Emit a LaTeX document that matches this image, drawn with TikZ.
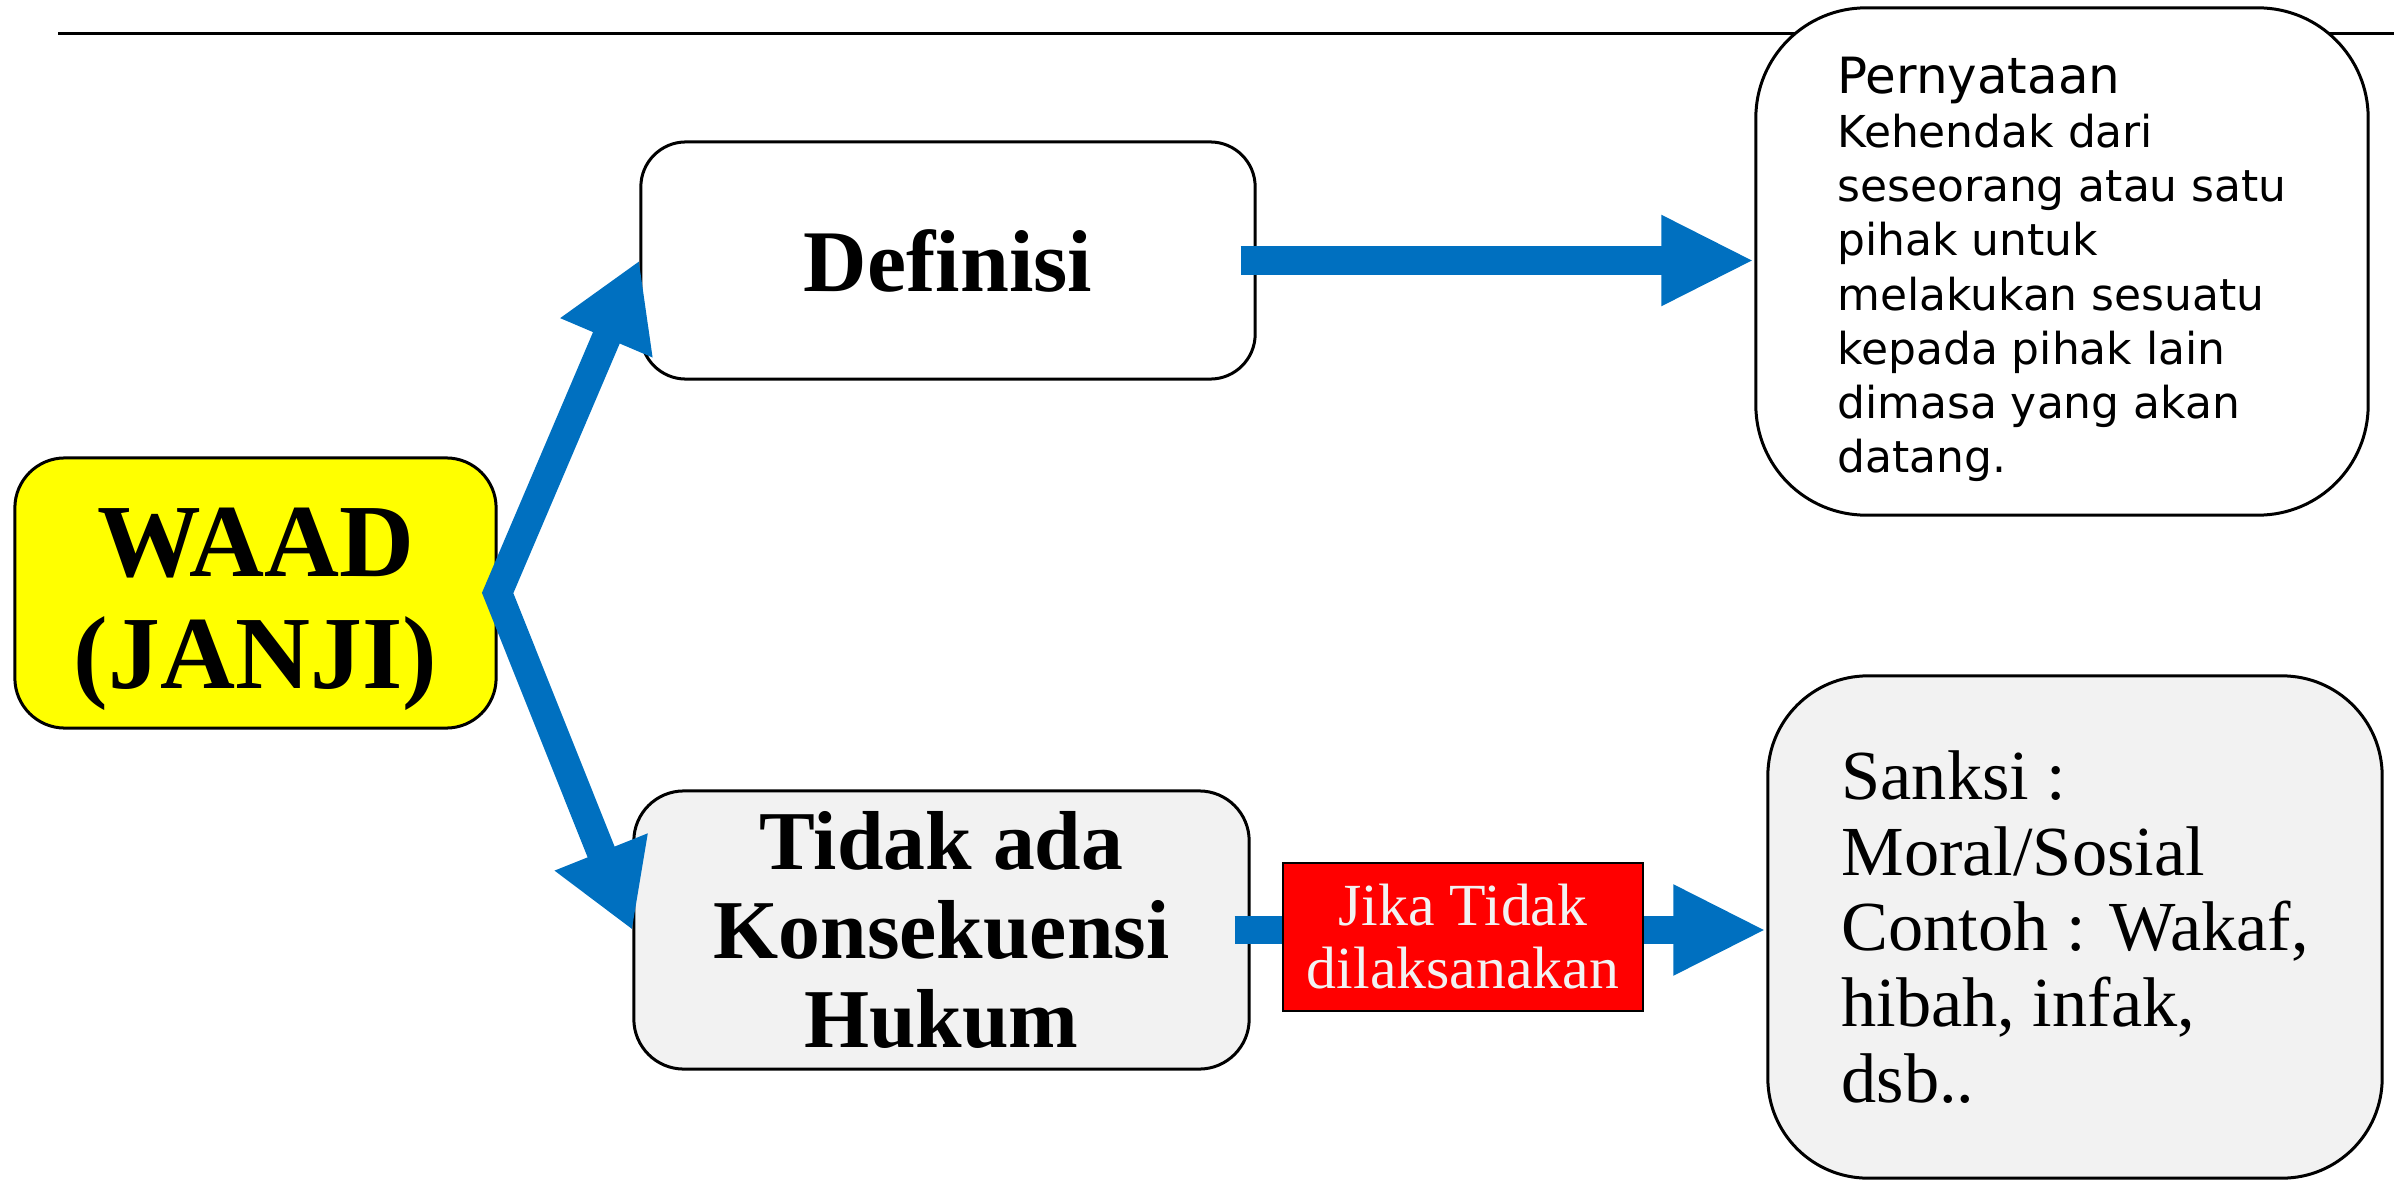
\documentclass[tikz,border=0pt]{standalone}
\usepackage{fontspec}
\setmainfont{Liberation Serif}
\newfontfamily\sansui{DejaVu Sans}
\usetikzlibrary{arrows.meta,calc}
\definecolor{arrowblue}{HTML}{0070C0}
\definecolor{boxgray}{HTML}{F2F2F2}
\definecolor{waadyellow}{HTML}{FFFF00}
\definecolor{alertred}{HTML}{FF0000}
\pgfdeclarelayer{front}
\pgfsetlayers{main,front}
\begin{document}
\begin{tikzpicture}[x=0.01cm,y=-0.01cm,
  box/.style={draw=black, line width=0.03cm, rounded corners=0.5cm, inner sep=0pt},
  flow/.style={draw=arrowblue, line width=0.28cm, -{Triangle[length=0.93cm,width=0.84cm]}},
  fork/.style={draw=arrowblue, line width=0.29cm, line join=miter,
    {Triangle[length=0.84cm,width=0.94cm]}-{Triangle[length=0.84cm,width=0.94cm]}},
]
\useasboundingbox (0,0) rectangle (2394,1182);
\coordinate (ruleL) at (58,34);
\coordinate (ruleR) at (2394,34);
\draw[line width=0.03cm] (ruleL) -- (ruleR);

\node[box, fill=waadyellow, minimum width=4.81cm, minimum height=2.70cm, align=center,
  font=\fontsize{29.5pt}{31.6pt}\selectfont\bfseries] (waad) at (255.5,593)
  {\rule{0pt}{1.09cm}WAAD\\(JANJI)\rule[-0.30cm]{0pt}{0pt}};

\node[box, fill=white, minimum width=6.14cm, minimum height=2.37cm, rounded corners=0.45cm,
  font=\fontsize{25pt}{27pt}\selectfont\bfseries] (def) at (948,260.5) {Definisi};

\node[box, fill=boxgray, minimum width=6.15cm, minimum height=2.78cm, align=center,
  font=\fontsize{23.8pt}{25.3pt}\selectfont\bfseries] (tidak) at (941.5,930) {Tidak ada\\Konsekuensi\\Hukum};

\node[box, fill=white, minimum width=6.12cm, minimum height=5.07cm, rounded corners=1.1cm, align=left,
  font=\sansui\fontsize{12.5pt}{15.4pt}\selectfont] (pern) at (2062,261.5)
  {\rule{0pt}{0.52cm}{\fontsize{14.2pt}{15.4pt}\selectfont Pernyataan}\\Kehendak dari\\seseorang atau satu\\pihak untuk\\melakukan sesuatu\\kepada pihak lain\\dimasa yang akan\\datang.};

\node[box, fill=boxgray, minimum width=6.14cm, minimum height=5.02cm, rounded corners=1.0cm, align=left,
  font=\fontsize{20pt}{21.55pt}\selectfont] (sanksi) at (2075,927)
  {Sanksi :\\Moral/Sosial\\Contoh : Wakaf,\\hibah, infak,\\dsb..};

\draw[flow] ($(def.east)+(-16,0)$) -- (def.east -| pern.west);
\draw[flow] ($(tidak.east)+(-16,0)$) -- (tidak.east -| sanksi.west);
\draw[fork] (def.west) -- (waad.east) -- (tidak.west);

\begin{pgfonlayer}{front}
\node[draw=black, line width=0.02cm, fill=alertred, text=boxgray, minimum width=3.6cm, minimum height=1.48cm,
  align=center, inner sep=0pt, font=\fontsize{17pt}{17.9pt}\selectfont] (cond) at (1463,937)
  {Jika Tidak\\dilaksanakan};
\end{pgfonlayer}
\end{tikzpicture}
\end{document}
